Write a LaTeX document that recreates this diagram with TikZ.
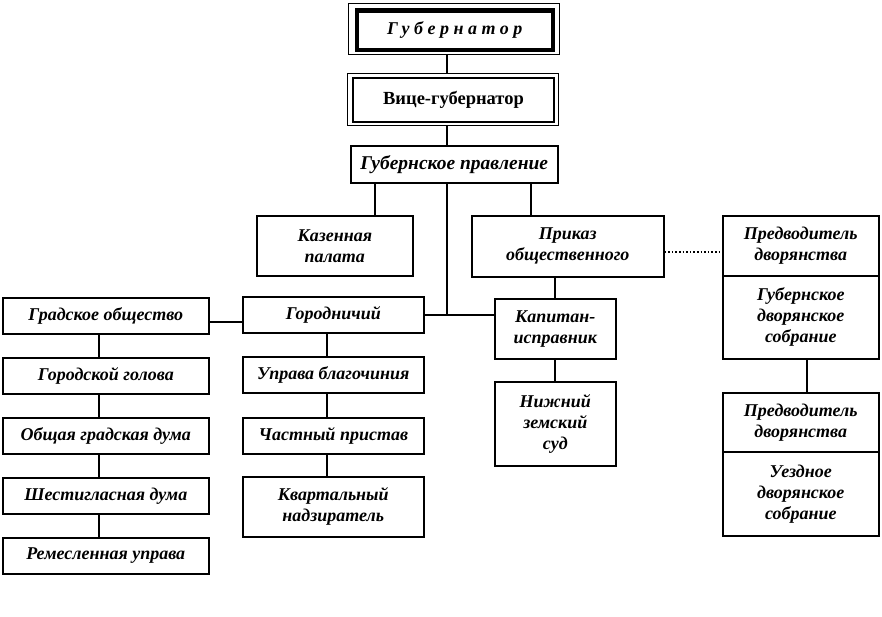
\documentclass[tikz,border=0pt]{standalone}
\usepackage{fontspec}
\setmainfont{Liberation Serif}
\begin{document}
\begin{tikzpicture}[x=1pt,y=-1pt,
  box/.style={draw, line width=1.6pt, anchor=north west, inner sep=0pt, align=center,
    font=\fontsize{18}{21}\selectfont\bfseries\itshape},
  plain/.style={draw, anchor=north west, inner sep=0pt},
  link/.style={line width=1.6pt},
  dotlink/.style={line width=1.6pt, dotted}]
\useasboundingbox (0,0) rectangle (882,617);
% top
\node[plain, line width=1pt, minimum width=211, minimum height=50.5] (gubo) at (347.5,3.5) {};
\node[box, line width=4.5pt, minimum width=196, minimum height=39.5,
  font=\fontsize{18}{21}\selectfont\bfseries\itshape\addfontfeatures{LetterSpace=25}] (gub) at (354.5,8.5) {Губернатор};
\node[plain, line width=1pt, minimum width=211, minimum height=52] (viceo) at (347,73) {};
\node[box, line width=2pt, minimum width=201, minimum height=44, font=\fontsize{18.5}{21}\selectfont\bfseries] (vice) at (352,77) {Вице-губернатор};
\node[box, minimum width=207, minimum height=37, font=\fontsize{19.5}{21}\selectfont\bfseries\itshape] (prav) at (350,145) {Губернское правление};
% second row
\node[box, minimum width=156, minimum height=60] (kaz) at (256,215) {Казенная\\палата};
\node[box, minimum width=192, minimum height=61] (prikaz) at (471,215) {Приказ\\общественного};
\node[box, minimum width=156, minimum height=60] (pred1) at (722,215) {Предводитель\\дворянства};
\node[box, minimum width=156, minimum height=83] (gds) at (722,275) {Губернское\\дворянское\\собрание};
\node[box, minimum width=156, minimum height=59] (pred2) at (722,392) {Предводитель\\дворянства};
\node[box, minimum width=156, minimum height=84] (uds) at (722,451) {Уездное\\дворянское\\собрание};
% middle
\node[box, minimum width=181, minimum height=36] (gorod) at (242,296) {Городничий};
\node[box, minimum width=121, minimum height=60] (kap) at (494,298) {Капитан-\\исправник};
\node[box, minimum width=121, minimum height=84] (nizh) at (494,381) {Нижний\\земский\\суд};
\node[box, minimum width=181, minimum height=36] (uprava) at (242,356) {Управа благочиния};
\node[box, minimum width=181, minimum height=36] (chast) at (242,417) {Частный пристав};
\node[box, minimum width=181, minimum height=60] (kvart) at (242,476) {Квартальный\\надзиратель};
% left column
\node[box, minimum width=206, minimum height=36] (grad) at (2,297) {Градское общество};
\node[box, minimum width=206, minimum height=36] (golova) at (2,357) {Городской голова};
\node[box, minimum width=206, minimum height=36] (duma) at (2,417) {Общая градская дума};
\node[box, minimum width=206, minimum height=36] (shest) at (2,477) {Шестигласная дума};
\node[box, minimum width=206, minimum height=36] (rem) at (2,537) {Ремесленная управа};
% guide coordinates
\coordinate (spine) at (447,0);
\coordinate (xk) at (375,0);
\coordinate (xp) at (531,0);
\coordinate (xc) at (555,0);
\coordinate (xl) at (99,0);
\coordinate (xr) at (327,0);
\coordinate (xd) at (807,0);
\coordinate (yg) at (0,322);
\coordinate (yd) at (0,252);
% connectors
\draw[link] (gubo.south -| spine) -- (viceo.north -| spine);
\draw[link] (viceo.south -| spine) -- (prav.north -| spine);
\draw[link] (prav.south -| xk) -- (kaz.north -| xk);
\draw[link] (prav.south -| xp) -- (prikaz.north -| xp);
\draw[link] (prav.south -| spine) -- (spine |- gorod.east);
\draw[link] (gorod.east) -- (kap.west |- gorod.east);
\draw[link] (grad.east |- yg) -- (gorod.west |- yg);
\draw[link] (prikaz.south -| xc) -- (kap.north -| xc);
\draw[link] (kap.south -| xc) -- (nizh.north -| xc);
\draw[dotlink] (prikaz.east |- yd) -- (pred1.west |- yd);
\draw[link] (gds.south -| xd) -- (pred2.north -| xd);
\draw[link] (grad.south -| xl) -- (golova.north -| xl);
\draw[link] (golova.south -| xl) -- (duma.north -| xl);
\draw[link] (duma.south -| xl) -- (shest.north -| xl);
\draw[link] (shest.south -| xl) -- (rem.north -| xl);
\draw[link] (gorod.south -| xr) -- (uprava.north -| xr);
\draw[link] (uprava.south -| xr) -- (chast.north -| xr);
\draw[link] (chast.south -| xr) -- (kvart.north -| xr);
\end{tikzpicture}
\end{document}
